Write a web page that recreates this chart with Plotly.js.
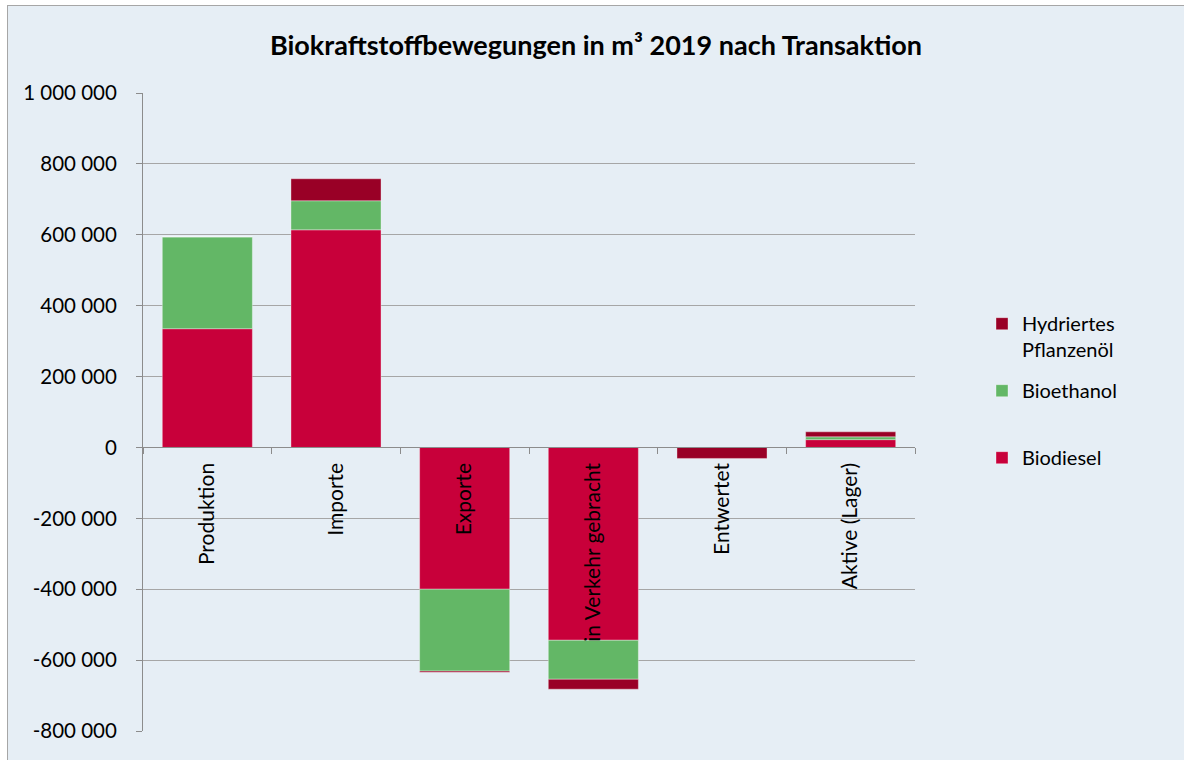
<!DOCTYPE html>
<html>
<head>
<meta charset="utf-8">
<script src="https://cdn.plot.ly/plotly-3.0.1.min.js"></script>
<style>
  html, body { margin: 0; padding: 0; background: #ffffff; }
  #chart { position: absolute; left: 7px; top: 5px; width: 1176px; height: 754px;
           border-left: 1px solid #a6a6a6; border-top: 1px solid #a6a6a6; background: #e6eef5; }
</style>
</head>
<body>
<div id="chart"></div>
<script>
const categories = ["Produktion", "Importe", "Exporte", "in Verkehr gebracht", "Entwertet", "Aktive (Lager)"];
const biodiesel = [335000, 614000, -400000, -544000, 0, 22000];
const bioethanol = [259000, 82000, -231000, -110000, 0, 8000];
const hvo = [0, 62000, -3000, -28000, -31000, 14000];
const seriesNames = ["Biodiesel", "Bioethanol<br> ", "Hydriertes<br>Pflanzenöl"];
const yTickVals = [-800000, -600000, -400000, -200000, 0, 200000, 400000, 600000, 800000, 1000000];
const yTickText = ["-800 000", "-600 000", "-400 000", "-200 000", "0", "200 000", "400 000", "600 000", "800 000", "1 000 000"];

const colors = ["#c8003a", "#63b766", "#990026"];
const ranks = [3, 2, 1];
const FONT = "Lato, 'Open Sans', sans-serif";

const traces = [biodiesel, bioethanol, hvo].map((vals, i) => ({
  type: "bar",
  name: seriesNames[i],
  x: categories,
  y: vals,
  legendgroup: "g" + i,
  legendrank: ranks[i],
  marker: { color: colors[i], line: { color: "rgba(255,255,255,0.35)", width: 1 } },
  hoverinfo: "x+y+name"
}));

const layout = {
  width: 1176,
  height: 754,
  paper_bgcolor: "#e6eef5",
  plot_bgcolor: "#e6eef5",
  margin: { l: 135, r: 269, t: 87, b: 29, pad: 0 },
  barmode: "relative",
  bargap: 0.3,
  font: { family: FONT, size: 20, color: "#000000" },
  title: {
    text: "<b>Biokraftstoffbewegungen in m³ 2019 nach Transaktion</b>",
    font: { family: FONT, size: 27, color: "#000000" },
    x: 0.5, xanchor: "center", xref: "container",
    y: 0.948, yanchor: "middle", yref: "container"
  },
  xaxis: {
    type: "category",
    anchor: "free",
    position: 0.4444,
    showline: true, linecolor: "#8c8c8c", linewidth: 1,
    ticks: "outside", ticklen: 6, tickcolor: "#8c8c8c",
    tickson: "boundaries",
    tickangle: -90,
    ticklabelstandoff: 6,
    showgrid: false,
    tickfont: { family: FONT, size: 21, color: "#000000" }
  },
  yaxis: {
    range: [-800000, 1000000],
    tickvals: yTickVals,
    ticktext: yTickText,
    showline: true, linecolor: "#8c8c8c", linewidth: 1,
    ticks: "outside", ticklen: 6, tickcolor: "#8c8c8c",
    showgrid: true, gridcolor: "#a6a6a6", gridwidth: 1,
    zeroline: false,
    ticklabelstandoff: 15,
    tickfont: { family: FONT, size: 20.5, color: "#000000" }
  },
  showlegend: true,
  legend: {
    x: 1.0868, xanchor: "left",
    y: 0.669, yanchor: "top",
    traceorder: "grouped",
    tracegroupgap: 12,
    valign: "top",
    bgcolor: "rgba(0,0,0,0)",
    font: { family: FONT, size: 20, color: "#000000" },
    itemwidth: 30
  }
};

Plotly.newPlot("chart", traces, layout, { displayModeBar: false, staticPlot: true });
</script>
</body>
</html>
